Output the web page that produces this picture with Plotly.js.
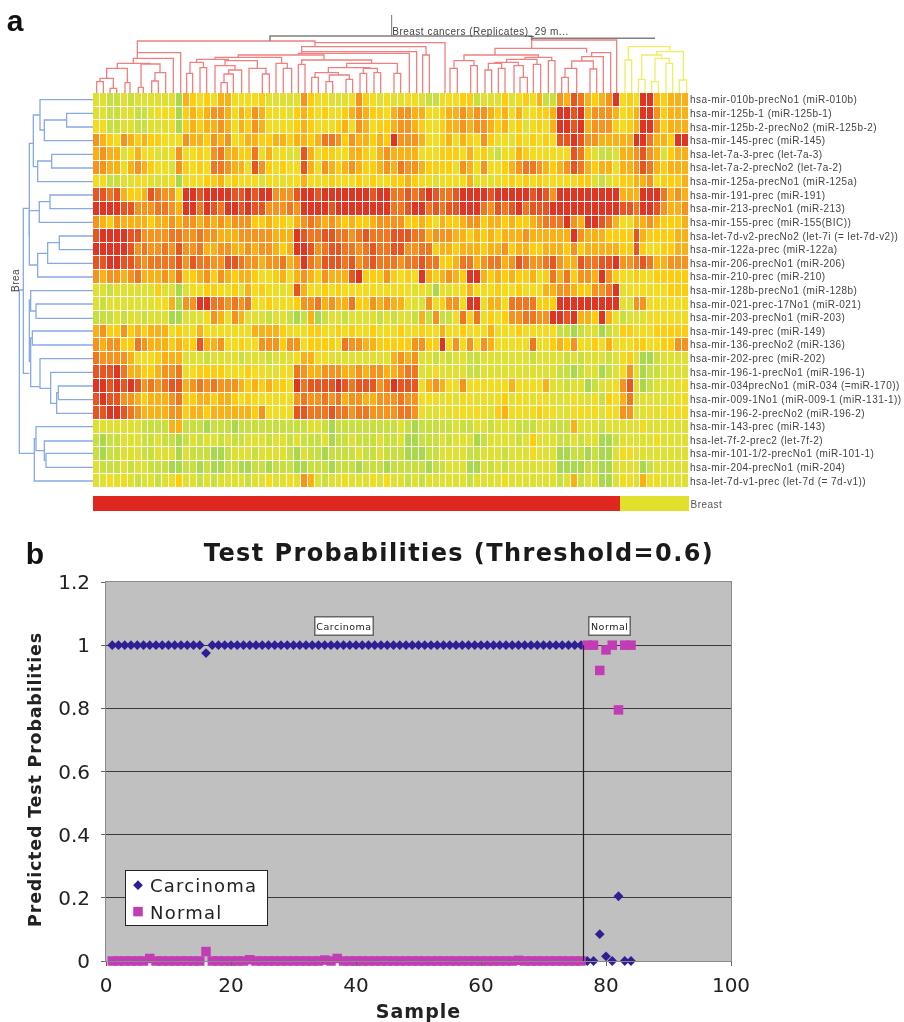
<!DOCTYPE html>
<html><head><meta charset="utf-8">
<script src="https://cdn.plot.ly/plotly-3.0.1.min.js"></script>
<style>
html,body{margin:0;padding:0;background:#fff}
#c{width:904px;height:1022px;filter:blur(0.55px)}
#c .g-gtitle text{letter-spacing:1.4px}
#c .ytick text{letter-spacing:0.47px}
#c .xtick text{letter-spacing:1.6px}
#c .g-x5title text{letter-spacing:1px}
#c .g-y5title text{letter-spacing:0.8px}
#c .g-y5title{transform:translate(-2px,8px)}
#c .legendtext{letter-spacing:1.2px}
#c .annotation text{letter-spacing:0.5px}
</style>
</head><body><div id="c"></div>
<script>
// Expression level (0 green ... 9 red) read per cell; one string per miRNA row, 86 samples.
const exprRows = [
"2211212222220 5434355333342 2222643322236 4323223321133 3441222423435 11658754569 3439954555",
"2211221123330 4545665354653 3324543433456 5443566553345 5656654535334 45998956665 3459964555",
"3311221122230 4545565354653 3334543334536 5344566543345 5656654534234 35998956664 3459964555",
"6543654544333 6554656345544 5545545776465 5454966653345 3543643324343 43889866555 5599755499",
"5655235332236 3343675544735 3322853443355 4356555533344 4353421335433 33338742112 5568652455",
"6655356543326 4343776553864 3433853654565 4456576654444 3653633456776 54568754553 5568754555",
"3311223322230 3334453433323 3233533343334 3433445433233 3352323343434 33333442123 4455634445",
"8878544587663 9989999889899 6668998999999 9899778789877 8999989999989 86999999999 5559997565",
"9999886667765 9979879989886 6676999989999 9999778997878 8999768789788 89999999999 8879986556",
"6546555545565 6656565666445 4435676565454 4566664454354 4566455454456 77796599875 3355654445",
"8999988666677 6676655566666 5559877887767 8777888775666 5545454555655 55559655544 4485444455",
"9999986766768 6675566556566 5459986788776 7877886677455 4555455645544 55546455555 4484334455",
"8899887677778 6877668876656 6756976888786 7877767787744 5775677568766 78655877889 6678755666",
"6566567555657 4456465455433 4535654655589 4446434395456 5499545454453 47574665964 3343344444",
"2212222224220 2334433425343 3238533434333 3333333232032 3353334334333 55665446679 2333333444",
"2122222223350 6699776767334 3334667565574 4656553226346 6399355377774 44999999999 2266333333",
"1112122122200 2223653652221 2210150122122 2212122151611 3747343466776 69989554953 1222333333",
"5644645455534 3353333333555 5433344334343 3433343343353 3433353334333 33110122012 4433344444",
"6566447655545 4485563343366 6466344443766 5544444664493 6363653333373 34546334353 3344334466",
"7666653334555 2221222212221 2223553322222 2222565622121 2211222222212 22212122212 3420012222",
"8889755445667 3344443334332 2337655666556 5665567722322 2211222222222 22110122012 3620112222",
"9989898676788 5676766654545 4439788889878 8867988835653 3633333353333 52212201223 6820122233",
"8988665455567 4455455434333 3336766767566 5566676633323 2332323423323 32223223143 5722222233",
"8899876555566 4554555555463 3338877787767 7666677632232 3333324533334 33223333233 6622323333",
"2222222111155 1110111011111 1111122101111 1111121011111 2112212221112 21115222122 2223222222",
"1011222112110 1212212112221 2212111201121 1121120011121 2220122221242 22112122001 2222232222",
"1011222112220 2111001222122 2210211011112 1121110001122 2211222122232 22001101002 3322222222",
"2111212211100 1101001100110 1110011101110 1110111110112 2200212122222 22000011002 2220122222",
"2232321221234 2212122221223 2232652122322 2323221212222 2212222322222 22125122002 3325332222"
];
const rowLabels = [
"hsa-mir-010b-precNo1 (miR-010b)","hsa-mir-125b-1 (miR-125b-1)","hsa-mir-125b-2-precNo2 (miR-125b-2)",
"hsa-mir-145-prec (miR-145)","hsa-let-7a-3-prec (let-7a-3)","hsa-let-7a-2-precNo2 (let-7a-2)",
"hsa-mir-125a-precNo1 (miR-125a)","hsa-mir-191-prec (miR-191)","hsa-mir-213-precNo1 (miR-213)",
"hsa-mir-155-prec (miR-155(BIC))","hsa-let-7d-v2-precNo2 (let-7i (= let-7d-v2))","hsa-mir-122a-prec (miR-122a)",
"hsa-mir-206-precNo1 (miR-206)","hsa-mir-210-prec (miR-210)","hsa-mir-128b-precNo1 (miR-128b)",
"hsa-mir-021-prec-17No1 (miR-021)","hsa-mir-203-precNo1 (miR-203)","hsa-mir-149-prec (miR-149)",
"hsa-mir-136-precNo2 (miR-136)","hsa-mir-202-prec (miR-202)","hsa-mir-196-1-precNo1 (miR-196-1)",
"hsa-mir-034precNo1 (miR-034 (=miR-170))","hsa-mir-009-1No1 (miR-009-1 (miR-131-1))","hsa-mir-196-2-precNo2 (miR-196-2)",
"hsa-mir-143-prec (miR-143)","hsa-let-7f-2-prec2 (let-7f-2)","hsa-mir-101-1/2-precNo1 (miR-101-1)",
"hsa-mir-204-precNo1 (miR-204)","hsa-let-7d-v1-prec (let-7d (= 7d-v1))"
];
const carcinomaCount = 76, normalCount = 10;

// Dendrogram joins: [a, b, joinLevel, levelOfA, levelOfB]
const redJoins = [
[290,310,245,279,279],[330,350,265,279,279],[300,340,235,245,265],[375,390,248,279,279],[320,382,205,235,248],
[415,430,262,279,279],[455,475,243,279,279],[465,497,218,243,279],[423,480,192,262,218],[352,450,190,205,192],
[400,520,175,190,279],[412,542,158,175,279],
[560,578,220,279,279],[600,620,203,279,279],[570,610,187,220,203],[663,682,248,279,279],[672,700,222,248,279],
[686,725,210,222,279],[645,705,197,279,210],[787,808,222,279,279],[747,798,205,279,222],[850,875,205,279,279],
[828,862,190,279,205],[675,772,182,197,205],[590,685,178,187,182],[645,845,172,178,190],
[895,915,193,279,279],[935,955,232,279,279],[978,998,245,279,279],[1038,1058,238,279,279],[988,1048,225,245,238],
[945,1015,218,232,225],[1080,1100,220,279,279],[1122,1142,218,279,279],[1090,1132,205,220,218],[985,1110,203,218,205],
[1182,1202,220,279,279],[1040,1192,190,203,220],[905,1115,180,193,190],
[715,972,165,172,180],[895,1228,160,165,279],[905,1250,155,160,279],[1268,1288,165,279,279],[905,1278,140,155,165],
[945,1335,128,140,279],[412,945,123,158,128],
[1350,1372,205,279,279],[1412,1432,197,279,279],[1362,1422,182,205,197],[1455,1475,210,279,279],[1495,1515,205,279,279],
[1465,1505,190,210,205],[1560,1582,232,279,279],[1542,1570,197,279,232],[1485,1555,187,190,197],[1600,1622,193,279,279],
[1520,1611,178,187,193],[1645,1665,182,279,279],[1575,1655,172,178,182],[1392,1615,165,182,172],
[1685,1705,232,279,279],[1695,1730,205,232,279],[1770,1790,207,279,279],[1715,1780,183,205,207],[1745,1810,170,183,279],
[1775,1832,158,170,279],[1485,1760,145,165,158],[1595,1850,120,145,279]
];
const yellowJoins = [
[1875,1895,180,279,279],[1915,1935,238,279,279],[1955,1975,245,279,279],[1998,2018,190,279,279],[1965,2008,175,245,190],
[1925,1985,165,238,175],[2038,2060,240,279,279],[1970,2050,155,165,240],[1885,2010,140,180,155]
];
const grayJoins = [[810,1595,108,123,120],[1595,1965,115,120,115]];
const grayStem = [[1175,45],[1175,108]];
const sideJoins = [
[340,381,200,279,279],[360,422,133,200,279],[299,390,120,279,133],[463,504,155,279,279],[483,545,113,155,279],
[345,500,100,120,113],[585,626,150,279,279],[605,667,118,150,279],[708,749,178,279,279],[728,790,143,178,279],
[760,831,113,143,279],[632,795,88,118,113],[430,710,88,100,88],
[912,955,108,279,279],[872,933,92,279,108],[993,1035,97,279,279],[1158,1199,175,279,279],[1178,1240,170,175,279],
[1117,1210,152,279,170],[1076,1165,120,279,152],[1014,1160,92,97,120],[900,1085,88,92,92],[625,1120,70,88,88],
[1360,1402,138,279,279],[1323,1381,133,279,138],[1280,1352,108,279,133],[1316,1443,103,108,279],[870,1360,58,70,103]
];

// Panel b
const sampleIds = [1,2,3,4,5,6,7,8,9,10,11,12,13,14,15,16,17,18,19,20,21,22,23,24,25,26,27,28,29,30,31,32,33,34,35,36,37,38,39,40,41,42,43,44,45,46,47,48,49,50,51,52,53,54,55,56,57,58,59,60,61,62,63,64,65,66,67,68,69,70,71,72,73,74,75,76,77,78,79,80,81,82,83,84];
const carcinomaProb = [1,1,1,1,1,1,1,1,1,1,1,1,1,1,1,0.975,1,1,1,1,1,1,1,1,1,1,1,1,1,1,1,1,1,1,1,1,1,1,1,1,1,1,1,1,1,1,1,1,1,1,1,1,1,1,1,1,1,1,1,1,1,1,1,1,1,1,1,1,1,1,1,1,1,1,1,1,0,0,0.085,0.015,0,0.205,0,0];
const normalProb = [0,0,0,0,0,0,0.008,0,0,0,0,0,0,0,0,0.03,0,0,0,0,0,0,0.004,0,0,0,0,0,0,0,0,0,0,0,0.003,0,0.008,0,0,0,0,0,0,0,0,0,0,0,0,0,0,0,0,0,0,0,0,0,0,0,0,0,0,0,0,0.002,0,0,0,0,0,0,0,0,0,0,1,1,0.92,0.985,1,0.795,1,1];
const xTicks = [0,20,40,60,80,100];
const yTicks = [0,0.2,0.4,0.6,0.8,1,1.2];
const yTickText = ["0","0.2","0.4","0.6","0.8","1","1.2"];

const W=904,H=1022;
const dx=(a,b)=>[a/W,b/W], dy=(top,bot)=>[1-bot/H,1-top/H];
const z = exprRows.map(r=>r.replace(/ /g,'').split('').map(Number));
const levelColors=['#a8d84c','#c8e03e','#dfe030','#f3dc1e','#ffcd0c','#fbb014','#f7931c','#f2761f','#ea5420','#e23422'];
const scale=levelColors.map((c,i)=>[i/9,c]);

function joinsTopDown(js){const x=[],y=[];js.forEach(j=>{x.push(j[0],j[0],j[1],j[1],null);y.push(j[3],j[2],j[2],j[4],null);});return {x,y};}
function joinsSide(js){const x=[],y=[];js.forEach(j=>{x.push(j[3],j[2],j[2],j[4],null);y.push(j[0],j[0],j[1],j[1],null);});return {x,y};}
const line=(o,color,w,xa,ya)=>({type:'scatter',mode:'lines',x:o.x,y:o.y,xaxis:xa,yaxis:ya,showlegend:false,hoverinfo:'skip',line:{color,width:w},connectgaps:false});
const classes=[[...Array(carcinomaCount).fill(0),...Array(normalCount).fill(1)]];

const traces=[
{type:'heatmap',z,zmin:0,zmax:9,colorscale:scale,showscale:false,xgap:1,ygap:1,xaxis:'x',yaxis:'y',hoverinfo:'skip'},
{type:'heatmap',z:classes,zmin:0,zmax:1,colorscale:[[0,'#e0271f'],[1,'#e2e02c']],showscale:false,xaxis:'x2',yaxis:'y2',hoverinfo:'skip'},
line(joinsTopDown(redJoins),'#f08080',1.3,'x3','y3'),
line(joinsTopDown(yellowJoins),'#eeee60',1.3,'x3','y3'),
line(joinsTopDown(grayJoins),'#808080',1.5,'x3','y3'),
line({x:grayStem.map(p=>p[0]),y:grayStem.map(p=>p[1])},'#777777',1,'x3','y3'),
line(joinsSide(sideJoins),'#88aae4',1.3,'x4','y4'),
{type:'scatter',mode:'markers',name:'Carcinoma',x:sampleIds,y:carcinomaProb,xaxis:'x5',yaxis:'y5',marker:{symbol:'diamond',size:7.5,color:'#2f1f96'},cliponaxis:false},
{type:'scatter',mode:'markers',name:'Normal',x:sampleIds,y:normalProb,xaxis:'x5',yaxis:'y5',marker:{symbol:'square',size:9.5,color:'#c23db4'},cliponaxis:false}
];

const hid={visible:false,fixedrange:true};
const sans='"DejaVu Sans",sans-serif';
const small='"Liberation Sans",Arial,sans-serif';
const layout={
width:W,height:H,margin:{l:0,r:0,t:0,b:0},paper_bgcolor:'#fff',plot_bgcolor:'rgba(0,0,0,0)',showlegend:true,
title:{text:'<b>Test Probabilities (Threshold=0.6)</b>',x:459/W,xref:'paper',xanchor:'center',y:1-553/H,yref:'paper',yanchor:'middle',font:{family:sans,size:24,color:'#1a1a1a'}},
xaxis:{...hid,domain:dx(93,689),range:[-0.5,85.5],anchor:'y'},
yaxis:{domain:dy(93,488),range:[28.5,-0.5],anchor:'x',side:'right',tickmode:'array',tickvals:rowLabels.map((_,i)=>i),ticktext:rowLabels,ticks:'',showline:false,showgrid:false,zeroline:false,tickfont:{family:small,size:10,color:'#444'},fixedrange:true},
xaxis2:{...hid,domain:dx(93,689),range:[-0.5,85.5],anchor:'y2'},
yaxis2:{...hid,domain:dy(496,511),range:[-0.5,0.5],anchor:'x2'},
xaxis3:{...hid,domain:dx(93,689),range:[279,2067],anchor:'y3'},
yaxis3:{...hid,domain:dy(15,93),range:[279,45],anchor:'x3'},
xaxis4:{...hid,domain:dx(0,93),range:[0,279],anchor:'y4'},
yaxis4:{...hid,domain:dy(93,488),range:[1464,279],anchor:'x4'},
xaxis5:{domain:dx(106,731),range:[0,100],anchor:'y5',tickmode:'array',tickvals:xTicks,showgrid:false,zeroline:false,showline:true,mirror:true,linecolor:'#8a8a8a',linewidth:1,ticks:'outside',ticklen:4,tickcolor:'#666',ticklabelstandoff:2,tickfont:{family:sans,size:20,color:'#222'},
 title:{text:'<b>Sample</b>',font:{family:sans,size:19,color:'#222'},standoff:8}},
yaxis5:{domain:dy(582,961),range:[0,1.2],anchor:'x5',tickmode:'array',tickvals:yTicks,ticktext:yTickText,showgrid:true,gridcolor:'#3a3a3a',gridwidth:1.4,zeroline:false,showline:true,mirror:true,linecolor:'#8a8a8a',linewidth:1,ticks:'outside',ticklen:4,tickcolor:'#666',ticklabelstandoff:7,tickfont:{family:sans,size:20,color:'#222'},
 title:{text:'<b>Predicted Test Probabilities</b>',font:{family:sans,size:17.5,color:'#222'},standoff:10}},
legend:{x:125/W,xanchor:'left',y:1-866/H,yanchor:'top',bgcolor:'#fff',bordercolor:'#222',borderwidth:1,font:{family:sans,size:18,color:'#222'},traceorder:'normal'},
shapes:[
{type:'rect',xref:'x5 domain',yref:'y5 domain',x0:0,x1:1,y0:0,y1:1,fillcolor:'#c0c0c0',line:{width:0},layer:'below'},
{type:'line',xref:'x5',yref:'y5',x0:76.4,x1:76.4,y0:0,y1:1,line:{color:'#222',width:1.2}}
],
annotations:[
{xref:'paper',yref:'paper',x:15/W,y:1-20/H,xanchor:'center',yanchor:'middle',text:'<b>a</b>',showarrow:false,font:{family:small,size:30,color:'#111'}},
{xref:'paper',yref:'paper',x:35/W,y:1-553/H,xanchor:'center',yanchor:'middle',text:'<b>b</b>',showarrow:false,font:{family:small,size:30,color:'#111'}},
{xref:'paper',yref:'paper',x:480/W,y:1-31/H,xanchor:'center',yanchor:'middle',text:'Breast cancers (Replicates)_29 m...',showarrow:false,font:{family:small,size:10,color:'#444'}},
{xref:'paper',yref:'paper',x:706/W,y:1-504/H,xanchor:'center',yanchor:'middle',text:'Breast',showarrow:false,font:{family:small,size:10,color:'#555'}},
{xref:'paper',yref:'paper',x:15/W,y:1-280/H,xanchor:'center',yanchor:'middle',text:'Brea',textangle:-90,showarrow:false,font:{family:small,size:10,color:'#444'}},
{xref:'x5',yref:'y5',x:38,y:1.06,text:'Carcinoma',showarrow:false,bgcolor:'#fff',bordercolor:'#666',borderwidth:1.5,borderpad:3,font:{family:sans,size:9.5,color:'#222'}},
{xref:'x5',yref:'y5',x:80.5,y:1.06,text:'Normal',showarrow:false,bgcolor:'#fff',bordercolor:'#666',borderwidth:1.5,borderpad:3,font:{family:sans,size:9.5,color:'#222'}}
]
};
Plotly.newPlot('c',traces,layout,{displayModeBar:false}).then(gd=>{
  // Tighten the legend box to the original's proportions.
  const lg=gd.querySelector('.legend'); if(!lg) return;
  const bg=lg.querySelector('.bg'); if(bg){bg.setAttribute('y',4);bg.setAttribute('height',55);bg.setAttribute('width',142);}
  lg.querySelectorAll('.legendtext').forEach(t=>t.setAttribute('x',+t.getAttribute('x')-16));
  lg.querySelectorAll('.legendsymbols').forEach(s=>s.setAttribute('transform','translate(-8,0)'));
});
</script></body></html>
